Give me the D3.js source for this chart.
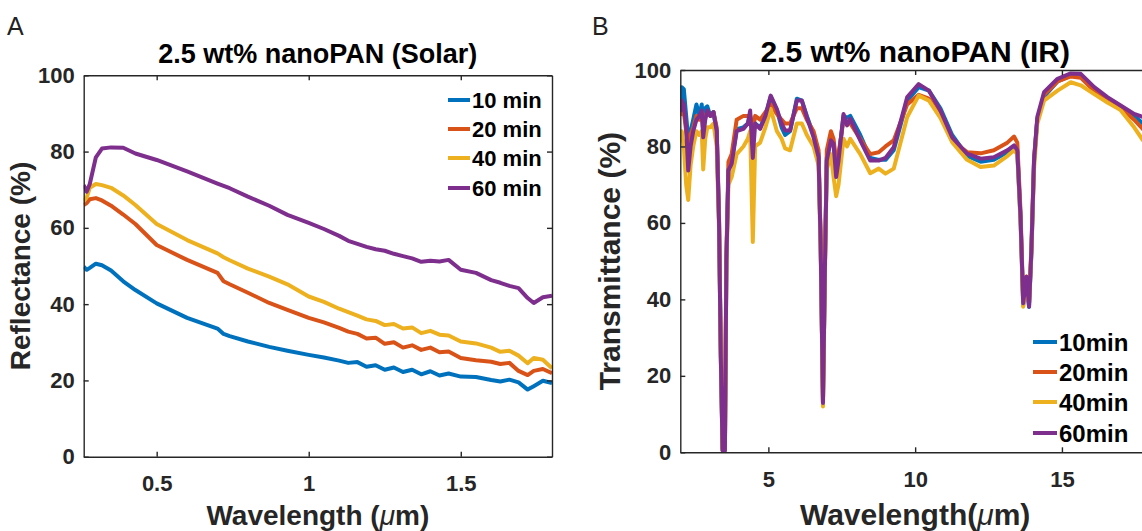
<!DOCTYPE html>
<html>
<head>
<meta charset="utf-8">
<script src="https://cdn.jsdelivr.net/npm/d3@7"></script>
<style>
body{margin:0;background:#fff;}
text{font-family:"Liberation Sans",Arial,sans-serif;}
</style>
</head>
<body>
<div id="container"></div>
<script>
let w = 1142;
let h = 531;

// A : solar reflectance
let solarWl = [0.26,0.27,0.28,0.30,0.32,0.35,0.39,0.43,0.50,0.60,
  0.70,0.72,0.74,0.80,0.87,0.93,1.00,1.05,1.10,1.13,
  1.16,1.19,1.22,1.25,1.28,1.31,1.34,1.37,1.40,1.43,
  1.46,1.50,1.55,1.60,1.63,1.66,1.69,1.72,1.74,1.77,1.80];
let solar10 = [49.8,49.0,49.5,50.6,50.2,48.8,46,43.7,40.2,36.4,
  33.6,32.2,31.6,30.2,28.8,27.8,26.7,26,25.2,24.6,
  24.8,23.6,24,22.8,23.4,22.2,22.8,21.6,22.4,21.3,
  21.8,21.0,20.9,20.1,19.7,20.2,19.5,17.6,18.5,19.9,19.3];
let solar20 = [66,66.5,67.5,67.8,67.2,65.8,63.5,61,55.5,51.6,
  48.2,46,45.2,43,40.3,38.5,36.4,35.2,33.8,32.8,
  32.2,31,31.2,29.6,30,28.6,29.2,28,28.6,27.4,
  27.6,25.9,25.3,24.9,24.3,24.6,22.5,21.4,22.5,23,21.9];
let solar40 = [67,68,70.5,71.5,71.2,70.5,68.5,66,61,56.8,
  53.3,52.3,51.5,49.3,47.2,45.2,42,40.6,38.8,37.9,
  37,36,35.6,34.5,34.8,33.6,33.9,32.4,33,32,
  31.8,30.2,29.7,28.6,27.5,27.8,26.5,24.5,25.9,25.4,23.2];
let solar60 = [71.2,69.5,71.5,78.5,80.8,81.1,81,79.5,77.8,74.8,
  71.6,71,70.4,68.2,65.8,63.4,61.3,59.7,57.9,56.6,
  55.8,55,54.4,54,53.2,52.6,52,51.1,51.4,51.2,
  51.6,49,48.2,46.3,45.6,44.8,44.2,41.6,40.3,41.8,42.2];
let solarNames = ["10 min", "20 min", "40 min", "60 min"];
let solarTicks = [0.5, 1, 1.5];

// B : IR transmittance
let irWl = [2.0,2.05,2.12,2.2,2.27,2.35,2.44,2.55,2.65,2.73,
  2.78,2.85,2.92,3.02,3.13,3.24,3.32,3.38,3.44,3.52,
  3.57,3.64,3.75,3.92,4.15,4.3,4.38,4.47,4.55,4.72,
  4.9,5.08,5.29,5.45,5.57,5.74,5.97,6.14,6.31,6.54,
  6.71,6.78,6.86,6.93,6.99,7.13,7.22,7.31,7.39,7.56,
  7.68,7.79,8.13,8.47,8.76,8.99,9.27,9.73,10.12,10.47,
  10.86,11.26,11.77,12.23,12.68,13.14,13.37,13.48,13.59,13.68,
  13.79,13.88,13.96,14.05,14.16,14.39,14.85,15.3,15.64,16.1,
  16.55,17.0,17.46,17.76,18.0];
let ir10 = [90,95.5,95,88,82,84,87,91,88,91,
  85,90,90.5,88,89,84,60,25,0.5,0.5,
  50,74,76,84.5,85,86,88,84,86,85,
  88,93,89.5,85,83,84,92.5,92,88,83,
  78,55,13,50,77,82,81,74,77,88,
  87.5,88,83,77,76.5,76.5,79,92,95.5,94.6,
  90,83,77.5,76,76.5,78.5,79.5,78.5,61,38.5,
  45,38,52,76,87,93,97,98.5,98.5,95,
  92.5,90,88,86,85];
let ir20 = [88,90,89,84,80,83,85,88,87,89,
  84,88,89,88,89,85,62,27,1,1,
  52,76,78,87,88,88,88,84,88,87,
  89,91,88.5,87,86,86,90,90,87,84,
  79,56,13,51,79,84,82,76,78,87,
  86,86,82,78,78.5,80,81.6,91,93.5,92.5,
  88,81.5,78.5,78.2,79,81,82.6,81,63,40,
  46,39,54,77,87,93.5,97,98.3,98,94.5,
  92,90,87,84.5,83];
let ir40 = [81,84,80,70,66,75,80,84,83,84,
  74,82,85,85,86,80,58,24,0.5,0.5,
  48,70,72,78,80,82,84,55,80,81,
  85,89.8,84,82,79.5,79,86,86,83,80,
  75,53,12,48,74,78,72,67,70,82,
  80,82,78,73,74.2,72.9,74.2,87.7,93.3,92,
  87.5,81.1,76.5,74.6,75,77.5,79,78,60,38.1,
  44,39,52,74,85.9,92,94.6,96.8,96,93.7,
  91.5,89.5,85,81.6,81];
let ir60 = [89,92,91,85,73.7,80,84,87,88,89.4,
  82.4,87,89.4,88,89,84,60,25,0.5,0.5,
  50,73.7,75.5,84,84.6,86,89.4,77,86,84.6,
  88,93.3,89.8,86,84.2,84.2,92,92,87.7,82.4,
  77.2,55,12.9,50,76.3,81.6,80.7,72,76.3,88.5,
  85.5,87.2,81.6,76.3,76.3,77,79.8,92.9,96.3,94.6,
  89.4,82.4,78.1,76.8,77.2,79,80.3,79,61.6,39,
  45.9,38.1,52.9,76.3,87.7,94.2,97.7,99.1,99,95.5,
  92.9,90.7,88.5,87.7,87];
let irNames = ["10min", "20min", "40min", "60min"];
let irTicks = [5, 10, 15];

let pctTicks = [0, 20, 40, 60, 80, 100];
let colors = ["#0072BD", "#D95319", "#EDB120", "#7E2F8E"];
let ink = "#262626";

let viz = d3.select("#container").append("svg")
    .attr("width", w)
    .attr("height", h)
    .style("display", "block")
;
viz.append("rect").attr("width", w).attr("height", h).attr("fill", "white");

function panel(p){
  let x = d3.scaleLinear().domain(p.xDomain).range([p.left, p.right]);
  let y = d3.scaleLinear().domain([0, 100]).range([p.bottom, p.top]);
  let g = viz.append("g");

  let clipId = "clip" + p.letter;
  g.append("clipPath").attr("id", clipId)
    .append("rect")
      .attr("x", p.left).attr("y", p.top)
      .attr("width", p.right - p.left).attr("height", p.bottom - p.top);

  // lines
  let line = d3.line().x(d => x(d[0])).y(d => y(d[1]));
  let lines = g.append("g").attr("clip-path", "url(#" + clipId + ")");
  p.series.forEach(function(s, i){
    lines.append("path")
      .attr("d", line(d3.zip(p.xs, s)))
      .attr("fill", "none")
      .attr("stroke", colors[i])
      .attr("stroke-width", 4)
      .attr("stroke-linejoin", "round");
  });

  // box axes, ticks inward
  let bottom = g.append("g").attr("transform", "translate(0," + p.bottom + ")")
    .call(d3.axisBottom(x).tickValues(p.xTicks).tickFormat(d => String(d)).tickSizeInner(-5).tickSizeOuter(0).tickPadding(19));
  let top = g.append("g").attr("transform", "translate(0," + p.top + ")")
    .call(d3.axisTop(x).tickValues(p.xTicks).tickSizeInner(-5).tickSizeOuter(0).tickFormat(""));
  let left = g.append("g").attr("transform", "translate(" + p.left + ",0)")
    .call(d3.axisLeft(y).tickValues(pctTicks).tickSizeInner(-5).tickSizeOuter(0).tickPadding(9));
  let right = g.append("g").attr("transform", "translate(" + p.right + ",0)")
    .call(d3.axisRight(y).tickValues(pctTicks).tickSizeInner(-5).tickSizeOuter(0).tickFormat(""));
  [bottom, top, left, right].forEach(function(a){
    a.selectAll("path, line").attr("stroke", ink).attr("stroke-width", 1.4);
    a.selectAll("text")
      .attr("fill", ink)
      .attr("font-size", 22)
      .attr("font-weight", "bold")
      .attr("font-family", "'Liberation Sans', Arial, sans-serif");
  });

  let cx = (p.left + p.right) / 2;
  let cy = (p.top + p.bottom) / 2;
  g.append("text")
    .text(p.title)
    .attr("x", cx).attr("y", p.titleY)
    .attr("text-anchor", "middle")
    .attr("font-size", p.titleSize)
    .attr("font-weight", "bold")
    .attr("fill", "black");

  let xl = g.append("text")
    .attr("x", cx).attr("y", p.xLabelY)
    .attr("text-anchor", "middle")
    .attr("font-size", p.labelSize)
    .attr("font-weight", "bold")
    .attr("fill", ink);
  xl.append("tspan").text(p.xLabel[0]);
  xl.append("tspan").text("\u03bc").attr("font-style", "italic").attr("font-weight", "normal");
  xl.append("tspan").text(p.xLabel[1]);

  g.append("text")
    .text(p.yLabel)
    .attr("transform", "translate(" + p.yLabelX + "," + cy + ") rotate(-90)")
    .attr("text-anchor", "middle")
    .attr("font-size", p.labelSize)
    .attr("font-weight", "bold")
    .attr("fill", ink);

  g.append("text")
    .text(p.letter)
    .attr("x", p.letterX).attr("y", 35)
    .attr("font-size", 25)
    .attr("fill", "#222");

  // legend
  let leg = g.append("g");
  p.names.forEach(function(n, i){
    let ly = p.legY[i];
    leg.append("line")
      .attr("x1", p.legX).attr("x2", p.legX + p.legLen)
      .attr("y1", ly).attr("y2", ly)
      .attr("stroke", colors[i])
      .attr("stroke-width", 4);
    leg.append("text")
      .text(n)
      .attr("x", p.legX + p.legLen + 2).attr("y", ly)
      .attr("dy", "0.36em")
      .attr("font-size", p.legSize)
      .attr("font-weight", "bold")
      .attr("fill", "black");
  });
}

panel({
  letter: "A", letterX: 7,
  left: 83.7, right: 552, top: 75.3, bottom: 456.7,
  xDomain: [0.26, 1.8], xTicks: solarTicks,
  xs: solarWl, series: [solar10, solar20, solar40, solar60],
  title: "2.5 wt% nanoPAN (Solar)", titleSize: 27, titleY: 63,
  xLabel: ["Wavelength (", "m)"], xLabelY: 525, labelSize: 28,
  yLabel: "Reflectance (%)", yLabelX: 30,
  names: solarNames, legSize: 22, legX: 448, legLen: 22, legY: [100, 129, 158, 188]
});

panel({
  letter: "B", letterX: 592,
  left: 680.3, right: 1150, top: 70, bottom: 452.3,
  xDomain: [2, 18], xTicks: irTicks,
  xs: irWl, series: [ir10, ir20, ir40, ir60],
  title: "2.5 wt% nanoPAN (IR)", titleSize: 30, titleY: 62,
  xLabel: ["Wavelength(", "m)"], xLabelY: 525, labelSize: 30,
  yLabel: "Transmittance (%)", yLabelX: 620,
  names: irNames, legSize: 24, legX: 1033, legLen: 24, legY: [342, 372, 402, 433]
});
</script>
</body>
</html>
